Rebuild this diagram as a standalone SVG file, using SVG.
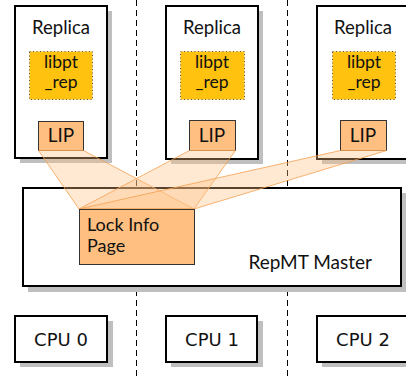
<svg xmlns="http://www.w3.org/2000/svg" width="406" height="376" viewBox="0 0 406 376">
<style>
.sh{fill:#bfbfbf}
.box{fill:#fff;stroke:#000;stroke-width:2}
.lib{fill:#ffc20e;stroke:#555;stroke-width:1;stroke-dasharray:1,2.5}
.lip{fill:#ffbf80;stroke:#333;stroke-width:1}
.t{font-family:Lato,"Liberation Sans",sans-serif;font-size:18.5px;fill:#111}
.l{font-size:17.5px}
.m{font-size:19px}
.k{font-size:18px}
.c{font-family:"DejaVu Sans",sans-serif;font-size:18px;fill:#111}
.dash{stroke:#000;stroke-width:1;stroke-dasharray:6,4}
.con{fill:#ffbf80;fill-opacity:0.35;stroke:#f5a050;stroke-opacity:0.8;stroke-width:1}
</style>
<rect width="406" height="376" fill="#fff"/>
<g id="separators">
<line class="dash" x1="136.5" y1="0" x2="136.5" y2="376"/>
<line class="dash" x1="287.5" y1="0" x2="287.5" y2="376"/>
</g>
<g id="replica0">
<rect class="sh" x="20" y="11" width="92" height="152"/>
<rect class="box" x="15" y="6" width="92" height="152"/>
<text class="t" x="61" y="34" text-anchor="middle">Replica</text>
<g id="libpt0"><rect class="lib" x="29.5" y="51.5" width="63" height="48"/>
<text class="t l" x="61" y="68" text-anchor="middle">libpt</text>
<text class="t l" x="61" y="88" text-anchor="middle">_rep</text></g>
<g id="lip0"><rect class="lip" x="38.5" y="121.5" width="45" height="29"/>
<text class="t m" x="61" y="142" text-anchor="middle">LIP</text></g>
</g>
<g id="replica1">
<rect class="sh" x="171" y="11" width="92" height="153"/>
<rect class="box" x="166" y="6" width="92" height="153"/>
<text class="t" x="212" y="34" text-anchor="middle">Replica</text>
<g id="libpt1"><rect class="lib" x="180.5" y="51.5" width="64" height="48"/>
<text class="t l" x="212" y="68" text-anchor="middle">libpt</text>
<text class="t l" x="212" y="88" text-anchor="middle">_rep</text></g>
<g id="lip1"><rect class="lip" x="189.5" y="120.5" width="46" height="30"/>
<text class="t m" x="212" y="142" text-anchor="middle">LIP</text></g>
</g>
<g id="replica2">
<rect class="sh" x="322" y="11" width="92" height="153"/>
<rect class="box" x="317" y="6" width="92" height="153"/>
<text class="t" x="363" y="34" text-anchor="middle">Replica</text>
<g id="libpt2"><rect class="lib" x="332.5" y="51.5" width="63" height="48"/>
<text class="t l" x="364" y="68" text-anchor="middle">libpt</text>
<text class="t l" x="364" y="88" text-anchor="middle">_rep</text></g>
<g id="lip2"><rect class="lip" x="340.5" y="120.5" width="46" height="30"/>
<text class="t m" x="363" y="142" text-anchor="middle">LIP</text></g>
</g>
<g id="master">
<rect class="sh" x="28" y="193" width="378" height="99"/>
<rect class="box" x="23" y="188" width="378" height="98"/>
<text class="t m" x="372" y="269" text-anchor="end">RepMT Master</text>
</g>
<g id="connectors">
<polygon class="con" points="38.5,150.5 83.5,150.5 194,209 79,209"/>
<polygon class="con" points="189.5,150.5 235.5,150.5 194,209 79,209"/>
<polygon class="con" points="340.5,150.5 386.5,150.5 194,209 79,209"/>
</g>
<g id="lockinfo">
<rect class="lip" x="79.5" y="209.5" width="115" height="55"/>
<text class="t k" x="87" y="231">Lock Info</text>
<text class="t k" x="87" y="252">Page</text>
</g>
<g id="cpu0">
<rect class="sh" x="20" y="321" width="93" height="46"/>
<rect class="box" x="15" y="316" width="92" height="46"/>
<text class="c" x="61" y="346" text-anchor="middle">CPU 0</text>
</g>
<g id="cpu1">
<rect class="sh" x="171" y="321" width="92" height="46"/>
<rect class="box" x="166" y="316" width="91" height="46"/>
<text class="c" x="212" y="346" text-anchor="middle">CPU 1</text>
</g>
<g id="cpu2">
<rect class="sh" x="322" y="321" width="92" height="46"/>
<rect class="box" x="317" y="316" width="92" height="46"/>
<text class="c" x="363" y="346" text-anchor="middle">CPU 2</text>
</g>
</svg>
